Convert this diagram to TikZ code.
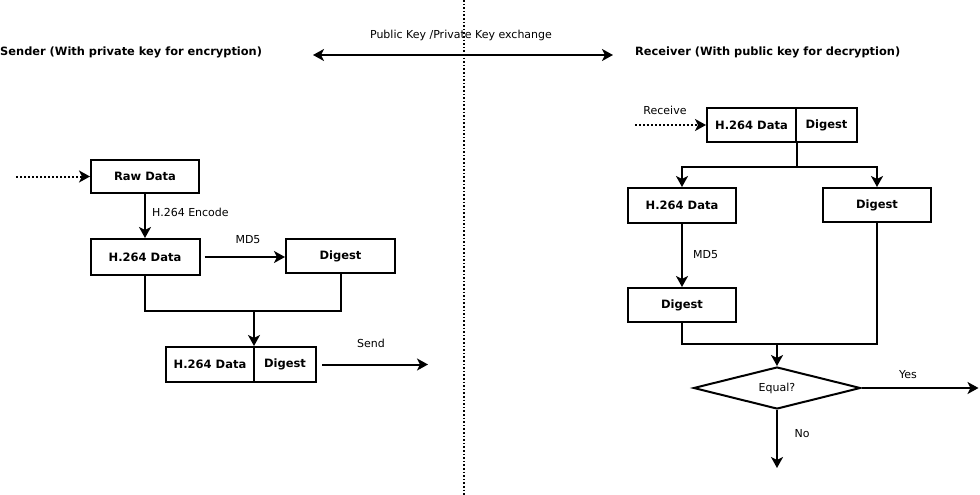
\documentclass[tikz,border=0pt]{standalone}
\usepackage{fontspec}
\setmainfont{DejaVu Sans}
\usetikzlibrary{arrows.meta,shapes.geometric}

\tikzset{
    blk/.style={draw, line width=2pt, inner sep=0pt, minimum height=34pt,
        font=\bfseries\fontsize{11.5}{13}\selectfont},
    lbl/.style={inner sep=0pt, font=\fontsize{11}{13}\selectfont},
    ttl/.style={inner sep=0pt, font=\bfseries\fontsize{11.4}{13}\selectfont},
    arr/.style={line width=2pt, -{Stealth[length=11pt,width=12pt,inset=3pt]}},
    darr/.style={line width=2pt, {Stealth[length=11pt,width=12pt,inset=3pt]}-{Stealth[length=11pt,width=12pt,inset=3pt]}},
    dotarr/.style={arr, dotted},
    wire/.style={line width=2pt}
}

\begin{document}
\begin{tikzpicture}[x=1pt, y=-1pt]
    \useasboundingbox (0,0) rectangle (980,495);

    \coordinate (divtop) at (464,0);
    \coordinate (divbot) at (464,495);
    \draw[line width=1.6pt, dotted] (divtop) -- (divbot);

    \node[ttl, anchor=west] (sender) at (0,52) {Sender (With private key for encryption)};
    \node[ttl, anchor=west] (receiver) at (635,52) {Receiver (With public key for decryption)};
    \coordinate (exl) at (313,55);
    \coordinate (exr) at (613,55);
    \draw[darr] (exl) -- (exr);
    \node[lbl] (exlbl) at (461,35) {Public Key /Private Key exchange};

    \node[blk, minimum width=108pt, minimum height=33pt] (raw) at (145,176.5) {Raw Data};
    \node[blk, minimum width=109pt, minimum height=36pt] (h264) at (145,257) {H.264 Data};
    \node[blk, minimum width=109pt] (dig) at (340.5,256) {Digest};
    \node[blk, minimum width=88pt, minimum height=35pt] (sdata) at (210,364.5) {H.264 Data};
    \node[blk, minimum width=62pt, minimum height=35pt] (sdigest) at (285,364.5) {Digest};

    \coordinate (rawin) at (16,176.5);
    \draw[dotarr] (rawin) -- (raw);
    \draw[arr] (raw.south) -- (raw.south |- h264.north);
    \node[lbl, anchor=west] (enc) at (152,212) {H.264 Encode};
    \draw[arr, shorten <=4pt] (h264.east) -- (h264.east -| dig.west);
    \node[lbl] (md5a) at (248,240) {MD5};
    \coordinate (smerge) at (254,311);
    \draw[wire] (h264.south) |- (smerge) -| (dig.south);
    \draw[arr] (smerge) -- (smerge |- sdata.north);
    \coordinate (sendout) at (428,364.5);
    \draw[arr, shorten <=5pt] (sdigest.east) -- (sendout);
    \node[lbl] (send) at (371,343) {Send};

    \node[blk, minimum width=89pt] (rdata) at (751.5,125) {H.264 Data};
    \node[blk, minimum width=61pt] (rdigest) at (826.5,125) {Digest};
    \node[blk, minimum width=108pt, minimum height=35pt] (rh264) at (682,205.5) {H.264 Data};
    \node[blk, minimum width=108pt] (rdig) at (877,205) {Digest};
    \node[blk, minimum width=108pt] (rdig2) at (682,305) {Digest};
    \node[draw, diamond, line width=2pt, inner sep=0pt, aspect=4,
        minimum width=167pt, minimum height=42pt, lbl] (eq) at (777,388) {Equal?};

    \coordinate (rcvin) at (635,125);
    \draw[dotarr] (rcvin) -- (rdata);
    \node[lbl] (rcv) at (665,110) {Receive};
    \draw[wire] (rdata.south east) -- ++(0,24) coordinate (split);
    \draw[arr] (split) -| (rh264.north);
    \draw[arr] (split) -| (rdig.north);
    \draw[arr] (rh264.south) -- (rh264.south |- rdig2.north);
    \node[lbl, anchor=west] (md5b) at (693,255) {MD5};
    \coordinate (rmerge) at (777,344);
    \draw[wire] (rdig2.south) |- (rmerge) -| (rdig.south);
    \draw[arr] (rmerge) -- (eq.north);
    \draw[arr] (eq.east) -- ++(117,0) coordinate (yesout);
    \draw[arr] (eq.south) -- ++(0,58) coordinate (noout);
    \node[lbl] (yes) at (908,375) {Yes};
    \node[lbl] (no) at (802,434) {No};
\end{tikzpicture}
\end{document}
